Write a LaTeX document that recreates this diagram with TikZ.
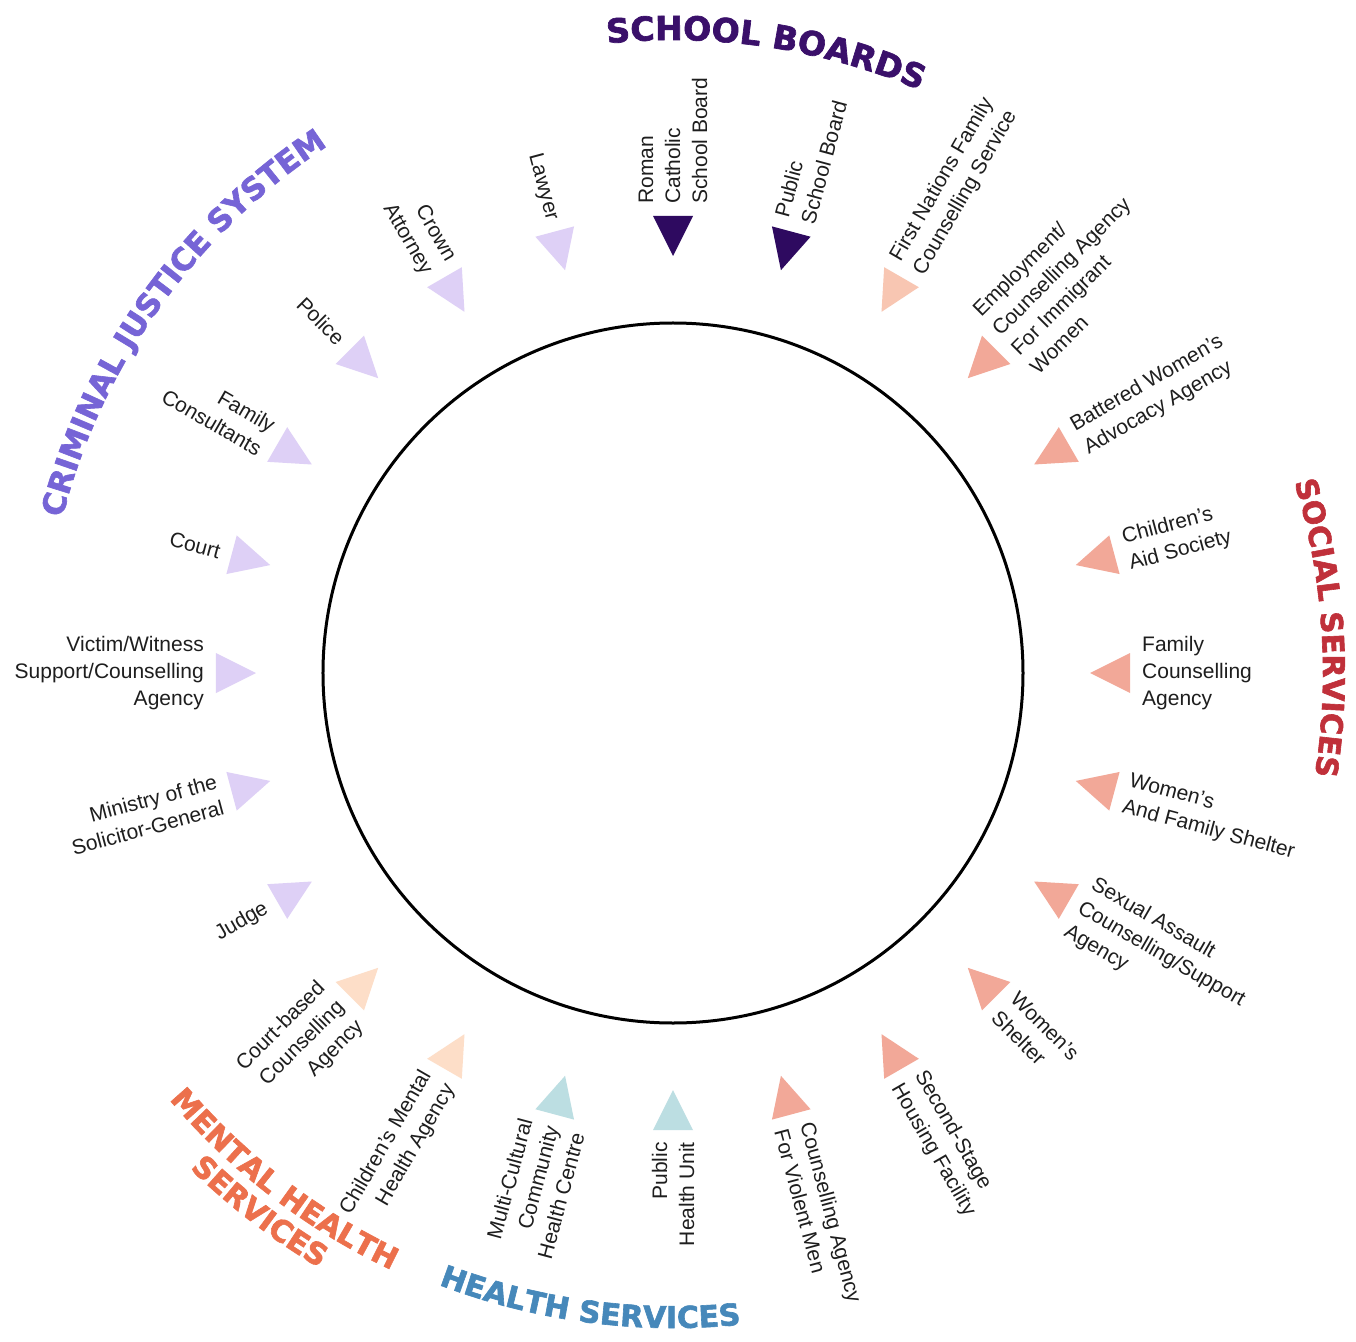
\documentclass[tikz,border=0pt]{standalone}
\usepackage{fontspec}
\setmainfont{Liberation Sans}
\newfontfamily\titlefont{DejaVu Sans Bold}[FakeBold=2]
\usetikzlibrary{decorations.text}
\definecolor{txtcol}{RGB}{30,30,30}
\definecolor{soc}{RGB}{242,168,152}
\definecolor{socl}{RGB}{248,198,178}
\definecolor{sch}{RGB}{46,10,96}
\definecolor{crim}{RGB}{222,208,246}
\definecolor{ment}{RGB}{253,222,200}
\definecolor{hlth}{RGB}{188,222,226}
\definecolor{tSch}{RGB}{58,16,106}
\definecolor{tCrim}{RGB}{118,100,214}
\definecolor{tSoc}{RGB}{192,48,58}
\definecolor{tMent}{RGB}{236,112,76}
\definecolor{tHlth}{RGB}{70,136,186}
\begin{document}
\begin{tikzpicture}[x=1pt,y=1pt,
  lbl/.style={font=\fontsize{21}{27}\selectfont, text=txtcol, inner sep=0pt},
  marker/.style={fill=#1}]
\useasboundingbox (-673,-668) rectangle (683,673);
\fill[white] (-673,-668) rectangle (683,673);
% central circle
\draw[line width=3pt] (0,0) circle[radius=350];
% right-hand items (text reads outward)
\foreach \a/\c/\t in {
  285/soc/{Counselling Agency\\For Violent Men},
  300/soc/{Second-Stage\\Housing Facility},
  315/soc/{Women's\\Shelter},
  330/soc/{Sexual Assault\\Counselling/Support\\Agency},
  345/soc/{Women's\\And Family Shelter},
  0/soc/{Family\\Counselling\\Agency},
  15/soc/{Children's\\Aid Society},
  30/soc/{Battered Women's\\Advocacy Agency},
  45/soc/{Employment/\\Counselling Agency\\For Immigrant\\Women},
  60/socl/{First Nations Family\\Counselling Service},
  75/sch/{Public\\School Board},
  90/sch/{Roman\\Catholic\\School Board}}{
  \fill[marker=\c, rotate=\a] (417,0) -- (457,20) -- (457,-20) -- cycle;
  \node[lbl, rotate=\a, anchor=west, align=left] (R\a) at (\a:469) {\t};
}
% left-hand items (text reads inward)
\foreach \a/\c/\t in {
  105/crim/{Lawyer},
  120/crim/{Crown\\Attorney},
  135/crim/{Police},
  150/crim/{Family\\Consultants},
  165/crim/{Court},
  180/crim/{Victim/Witness\\Support/Counselling\\Agency},
  195/crim/{Ministry of the\\Solicitor-General},
  210/crim/{Judge},
  225/ment/{Court-based\\Counselling\\Agency},
  240/ment/{Children's Mental\\Health Agency},
  255/hlth/{Multi-Cultural\\Community\\Health Centre},
  270/hlth/{Public\\Health Unit}}{
  \fill[marker=\c, rotate=\a] (417,0) -- (457,20) -- (457,-20) -- cycle;
  \node[lbl, rotate={\a-180}, anchor=east, align=right] (L\a) at (\a:469) {\t};
}
% category titles
\path[decorate, decoration={text along path, text align=center,
  text={|\titlefont\fontsize{33}{33}\selectfont\color{tSch}|SCHOOL BOARDS}}]
  (115:633) arc[start angle=115, end angle=48, radius=633];
\path[decorate, decoration={text along path, text align=center,
  text={|\titlefont\fontsize{31}{31}\selectfont\color{tCrim}|CRIMINAL JUSTICE SYSTEM}}]
  (185:630) arc[start angle=185, end angle=104, radius=630];
\path[decorate, decoration={text along path, text align=center,
  text={|\titlefont\fontsize{30}{30}\selectfont\color{tSoc}|SOCIAL SERVICES}}]
  (45:650) arc[start angle=45, end angle=-37, radius=650];
\path[decorate, decoration={text along path, text align=center,
  text={|\titlefont\fontsize{30}{30}\selectfont\color{tHlth}|HEALTH SERVICES}}]
  (222:655) arc[start angle=222, end angle=303, radius=655];
\path[decorate, decoration={text along path, text align=center,
  text={|\titlefont\fontsize{30}{30}\selectfont\color{tMent}|MENTAL HEALTH}}]
  (197:660) arc[start angle=197, end angle=268, radius=660];
\path[decorate, decoration={text along path, text align=center,
  text={|\titlefont\fontsize{30}{30}\selectfont\color{tMent}|SERVICES}}]
  (202:692) arc[start angle=202, end angle=263, radius=692];
\end{tikzpicture}
\end{document}
